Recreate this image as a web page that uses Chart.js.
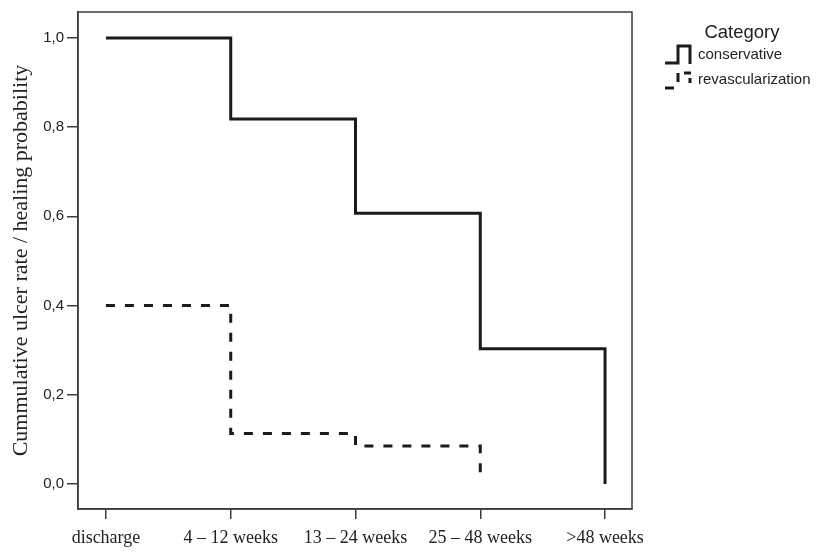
<!DOCTYPE html>
<html>
<head>
<meta charset="utf-8">
<script src="https://cdn.jsdelivr.net/npm/chart.js@4/dist/chart.umd.min.js"></script>
<style>
  html, body { margin: 0; padding: 0; background: #fff; }
  #wrap { width: 817px; height: 553px; }
</style>
</head>
<body>
<div id="wrap"><canvas id="km" width="817" height="553"></canvas></div>
<script>
// time categories on the x axis
const categories = ['discharge', '4 \u2013 12 weeks', '13 \u2013 24 weeks', '25 \u2013 48 weeks', '>48 weeks'];
// step values per category
const conservative = [1.0, 0.818, 0.607, 0.303, 0.0];
const revascularization = [0.40, 0.113, 0.085, 0.01];
const yTicks = [0, 0.2, 0.4, 0.6, 0.8, 1.0];
const seriesNames = ['conservative', 'revascularization'];

const lineColor = '#1b1b1b';
const axisColor = '#3c3c3c';
const textColor = '#222';

const toPoints = (arr) => arr.map((v, i) => ({ x: i, y: v }));

// plot box (top + right edges as well)
const boxPlugin = {
    id: 'box',
    beforeDatasetsDraw(chart) {
        const a = chart.chartArea;
        const ctx = chart.ctx;
        ctx.save();
        ctx.strokeStyle = axisColor;
        ctx.lineWidth = 1.5;
        ctx.strokeRect(a.left, a.top, a.right - a.left, a.bottom - a.top);
        ctx.restore();
    }
};

// legend with step-shaped icons
const legendPlugin = {
    id: 'stepLegend',
    afterDraw(chart) {
        const ctx = chart.ctx;
        ctx.save();
        ctx.fillStyle = textColor;
        ctx.textBaseline = 'middle';
        ctx.font = '18.5px "Liberation Sans", Arial, sans-serif';
        ctx.textAlign = 'center';
        ctx.fillText('Category', 742, 33);

        ctx.font = '15px "Liberation Sans", Arial, sans-serif';
        ctx.textAlign = 'left';
        ctx.fillText(seriesNames[0], 698, 55);
        ctx.fillText(seriesNames[1], 698, 80);

        ctx.strokeStyle = lineColor;
        ctx.lineWidth = 3;
        ctx.lineCap = 'butt';
        ctx.beginPath();
        ctx.moveTo(665, 63);
        ctx.lineTo(678, 63);
        ctx.lineTo(678, 46);
        ctx.lineTo(690, 46);
        ctx.lineTo(690, 64);
        ctx.stroke();

        ctx.beginPath();
        ctx.moveTo(665, 88); ctx.lineTo(674, 88);
        ctx.moveTo(678, 82); ctx.lineTo(678, 73);
        ctx.moveTo(684, 73); ctx.lineTo(691, 73);
        ctx.moveTo(690, 78); ctx.lineTo(690, 83);
        ctx.stroke();
        ctx.restore();
    }
};

new Chart(document.getElementById('km'), {
    type: 'line',
    data: {
        datasets: [
            {
                label: seriesNames[0],
                data: toPoints(conservative),
                borderColor: lineColor,
                borderWidth: 3,
                stepped: 'before',
                pointRadius: 0,
                fill: false
            },
            {
                label: seriesNames[1],
                data: toPoints(revascularization),
                borderColor: lineColor,
                borderWidth: 3,
                borderDash: [9, 10],
                stepped: 'before',
                pointRadius: 0,
                fill: false
            }
        ]
    },
    options: {
        responsive: false,
        animation: false,
        devicePixelRatio: 1,
        layout: { padding: { left: 0, right: 185, top: 8, bottom: 0 } },
        plugins: {
            legend: { display: false },
            tooltip: { enabled: false }
        },
        scales: {
            x: {
                type: 'linear',
                min: -0.224,
                max: 4.216,
                afterFit: (scale) => { scale.height = 44; },
                afterBuildTicks: (scale) => {
                    scale.ticks = categories.map((c, i) => ({ value: i }));
                },
                ticks: {
                    color: textColor,
                    font: { family: '"Liberation Serif", "Times New Roman", serif', size: 18 },
                    padding: 8,
                    maxRotation: 0,
                    autoSkip: false,
                    callback: (v) => categories[v]
                },
                grid: {
                    drawOnChartArea: false,
                    drawTicks: true,
                    tickLength: 10,
                    color: axisColor,
                    lineWidth: 1.5
                },
                border: { display: true, color: axisColor, width: 1.5 }
            },
            y: {
                min: -0.056,
                max: 1.058,
                afterFit: (scale) => { scale.width = 78; },
                afterBuildTicks: (scale) => {
                    scale.ticks = yTicks.map(v => ({ value: v }));
                },
                ticks: {
                    color: textColor,
                    font: { family: '"Liberation Sans", Arial, sans-serif', size: 15 },
                    padding: 3,
                    callback: (v) => v.toFixed(1).replace('.', ',')
                },
                grid: {
                    drawOnChartArea: false,
                    drawTicks: true,
                    tickLength: 11,
                    color: axisColor,
                    lineWidth: 1.5
                },
                border: { display: true, color: axisColor, width: 1.5 },
                title: {
                    display: true,
                    text: 'Cummulative ulcer rate / healing probability',
                    color: textColor,
                    font: { family: '"Liberation Serif", "Times New Roman", serif', size: 22 },
                    padding: { top: 8, bottom: 0 }
                }
            }
        }
    },
    plugins: [boxPlugin, legendPlugin]
});
</script>
</body>
</html>
